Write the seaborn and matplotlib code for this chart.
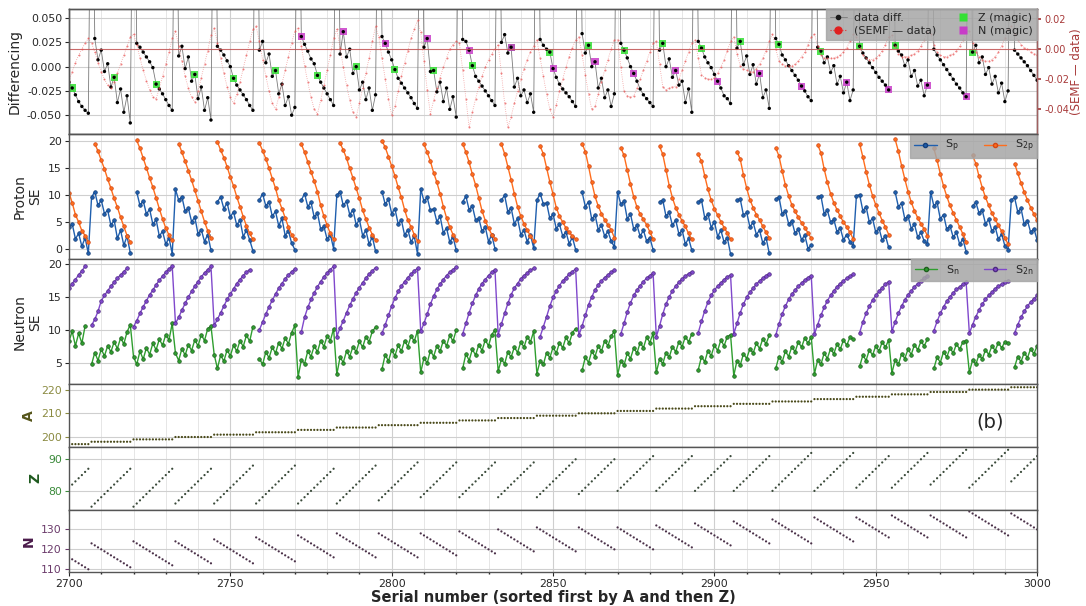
import numpy as np
import pandas as pd
import matplotlib
matplotlib.use("Agg")
import matplotlib.pyplot as plt
import seaborn as sns
from matplotlib.lines import Line2D
from matplotlib.ticker import MultipleLocator, FormatStrFormatter, FixedLocator

nan = np.nan
S = 0.30  # off-scale jump at the first nuclide of each isobar

# ---------------- data ----------------
SERIAL_START = 2700
A_GROUPS = [197, 198, 199, 200, 201, 202, 203, 204, 205, 206, 207, 208, 209,
            210, 211, 212, 213, 214, 215, 216, 217, 218, 219, 220, 221]
Z_FIRST = [81, 75, 75, 76, 76, 76, 76, 76, 77, 78, 78, 78, 78,
           79, 80, 80, 80, 80, 80, 80, 81, 81, 82, 81, 83]
Z_LAST = [87, 87, 87, 87, 88, 88, 87, 88, 89, 89, 89, 89, 90,
          90, 91, 91, 91, 91, 92, 92, 91, 92, 93, 93, 91]

DIFF = [
    [-0.016, -0.022, -0.029, -0.036, -0.041, -0.045, -0.048],
    [S, 0.029, 0.007, 0.017, -0.005, 0.003, -0.021, -0.011, -0.037, -0.023, -0.047, -0.030, -0.058],
    [S, 0.024, 0.020, 0.015, 0.010, 0.005, -0.001, -0.018, -0.023, -0.028, -0.034, -0.040, -0.045],
    [S, 0.011, 0.021, -0.002, 0.010, -0.015, -0.008, -0.033, -0.021, -0.045, -0.032, -0.055],
    [S, 0.021, 0.017, 0.012, 0.006, 0.000, -0.012, -0.019, -0.024, -0.029, -0.034, -0.040, -0.045],
    [S, 0.017, 0.026, 0.004, 0.013, -0.010, -0.004, -0.028, -0.018, -0.040, -0.031, -0.050, -0.042],
    [S, 0.031, 0.023, 0.016, 0.008, 0.003, -0.009, -0.016, -0.022, -0.028, -0.034, -0.040],
    [S, 0.013, 0.036, 0.010, 0.018, -0.007, 0.000, -0.024, -0.016, -0.034, -0.022, -0.045, -0.029],
    [S, 0.031, 0.024, 0.015, 0.007, -0.003, -0.012, -0.017, -0.022, -0.027, -0.032, -0.038, -0.043],
    [S, 0.020, 0.029, -0.005, -0.004, -0.026, -0.016, -0.036, -0.022, -0.044, -0.031, -0.052],
    [S, 0.028, 0.026, 0.017, 0.001, -0.010, -0.015, -0.020, -0.025, -0.030, -0.035, -0.040],
    [S, 0.025, 0.033, 0.014, 0.020, -0.021, -0.012, -0.030, -0.024, -0.037, -0.028, -0.047],
    [S, 0.028, 0.022, 0.018, 0.015, -0.002, -0.011, -0.018, -0.023, -0.027, -0.031, -0.036, -0.041],
    [S, 0.034, 0.014, 0.022, 0.000, 0.005, -0.022, -0.012, -0.032, -0.024, -0.041, -0.028],
    [S, 0.024, 0.017, 0.009, 0.000, -0.007, -0.015, -0.023, -0.029, -0.033, -0.037, -0.041],
    [S, 0.017, 0.024, 0.000, 0.008, -0.011, -0.004, -0.019, -0.015, -0.037, -0.023, -0.047],
    [S, 0.026, 0.019, 0.010, 0.004, -0.001, -0.008, -0.015, -0.022, -0.030, -0.033, -0.038],
    [S, 0.019, 0.026, 0.002, 0.011, -0.008, 0.002, -0.018, -0.007, -0.032, -0.024, -0.043],
    [S, 0.029, 0.023, 0.012, 0.007, 0.001, -0.004, -0.009, -0.014, -0.020, -0.025, -0.031, -0.035],
    [S, 0.020, 0.016, 0.004, 0.010, -0.006, 0.001, -0.018, -0.010, -0.027, -0.016, -0.035, -0.024],
    [S, 0.021, 0.014, 0.009, 0.004, -0.001, -0.006, -0.011, -0.015, -0.019, -0.024],
    [S, 0.022, 0.016, 0.012, 0.001, 0.007, -0.010, -0.004, -0.020, -0.014, -0.030, -0.019],
    [S, 0.018, 0.012, 0.007, 0.002, -0.003, -0.008, -0.013, -0.018, -0.022, -0.027, -0.031],
    [S, 0.015, 0.022, 0.004, 0.010, -0.008, -0.001, -0.018, -0.010, -0.027, -0.017, -0.036, -0.025],
    [S, 0.017, 0.013, 0.009, 0.005, 0.001, -0.004, -0.009, -0.014],
]

SEMF = [
    [-0.021, -0.015, -0.009, -0.004, 0.000, 0.004, 0.007],
    [0.004, -0.002, -0.009, -0.015, -0.020, -0.024, -0.026, -0.022, -0.016, -0.010, -0.004, 0.002, 0.008],
    [0.010, 0.003, -0.006, -0.014, -0.021, -0.027, -0.032, -0.033, -0.026, -0.018, -0.010, -0.002, 0.007],
    [0.012, 0.002, -0.008, -0.018, -0.026, -0.032, -0.035, -0.028, -0.019, -0.010, -0.001, 0.009],
    [0.014, 0.004, -0.006, -0.016, -0.025, -0.032, -0.036, -0.030, -0.022, -0.013, -0.004, 0.005, 0.013],
    [0.015, 0.005, -0.007, -0.018, -0.028, -0.036, -0.040, -0.032, -0.023, -0.014, -0.005, 0.004, 0.012],
    [0.014, 0.002, -0.011, -0.022, -0.032, -0.040, -0.043, -0.034, -0.024, -0.014, -0.004, 0.007],
    [0.013, 0.001, -0.012, -0.024, -0.034, -0.042, -0.045, -0.036, -0.026, -0.016, -0.006, 0.005, 0.015],
    [0.008, -0.006, -0.020, -0.033, -0.044, -0.038, -0.028, -0.018, -0.009, -0.001, 0.007, 0.013, 0.019],
    [0.011, -0.008, -0.027, -0.043, -0.034, -0.026, -0.019, -0.012, -0.006, 0.000, 0.003, 0.005],
    [0.004, -0.014, -0.033, -0.052, -0.042, -0.033, -0.025, -0.018, -0.012, -0.007, -0.003, 0.000],
    [0.003, -0.016, -0.036, -0.052, -0.045, -0.036, -0.028, -0.020, -0.013, -0.007, -0.002, 0.002],
    [0.006, -0.006, -0.018, -0.030, -0.040, -0.045, -0.037, -0.028, -0.020, -0.012, -0.005, 0.001, 0.006],
    [0.008, -0.004, -0.017, -0.030, -0.040, -0.038, -0.030, -0.022, -0.014, -0.007, 0.000, 0.006],
    [0.006, -0.012, -0.028, -0.031, -0.032, -0.031, -0.026, -0.020, -0.014, -0.008, -0.002, 0.004],
    [0.005, -0.010, -0.025, -0.027, -0.026, -0.025, -0.025, -0.020, -0.014, -0.008, -0.002, 0.004],
    [0.006, -0.006, -0.017, -0.019, -0.020, -0.020, -0.019, -0.016, -0.012, -0.007, -0.001, 0.005],
    [0.008, -0.003, -0.011, -0.013, -0.014, -0.015, -0.015, -0.013, -0.010, -0.006, -0.001, 0.005],
    [0.010, 0.000, -0.008, -0.010, -0.011, -0.011, -0.011, -0.010, -0.008, -0.005, -0.002, 0.003, 0.008],
    [0.010, 0.002, -0.004, -0.006, -0.006, -0.006, -0.006, -0.005, -0.004, -0.002, 0.001, 0.005, 0.010],
    [0.008, 0.001, -0.004, -0.006, -0.007, -0.007, -0.006, -0.004, -0.001, 0.003, 0.008],
    [0.009, 0.002, -0.003, -0.005, -0.005, -0.005, -0.004, -0.003, -0.001, 0.002, 0.006, 0.011],
    [0.010, 0.003, -0.002, -0.004, -0.005, -0.005, -0.004, -0.003, -0.001, 0.002, 0.006, 0.012],
    [0.012, 0.004, -0.002, -0.005, -0.007, -0.008, -0.008, -0.007, -0.005, -0.002, 0.002, 0.007, 0.013],
    [0.015, 0.010, 0.006, 0.003, 0.001, 0.000, -0.002, -0.003, -0.004],
]

SP = [
    [4.0, 4.6, 1.8, 2.8, 0.4, 2.0, -0.9],
    [9.5, 10.6, 8.0, 9.0, 6.5, 7.1, 4.3, 5.3, 1.9, 3.4, 0.6, 2.3, -0.8],
    [nan, 10.5, 8.0, 8.9, 6.4, 7.3, 4.5, 5.4, 2.3, 3.2, 0.8, 2.0, -1.0],
    [11.0, 9.0, 9.6, 6.9, 7.5, 5.0, 5.8, 2.7, 3.5, 1.3, 2.6, -0.3],
    [nan, 8.7, 9.6, 7.4, 8.5, 5.9, 6.8, 4.3, 5.3, 2.2, 3.4, 1.6, -0.4],
    [nan, 9.0, 10.2, 7.9, 8.7, 6.0, 6.9, 4.2, 5.6, 2.4, 3.3, 1.0, -0.2],
    [nan, 9.0, 10.2, 7.8, 8.6, 5.8, 6.6, 3.6, 4.1, 1.7, 2.6, 0.0],
    [9.9, 10.6, 8.0, 8.8, 6.3, 7.2, 4.4, 5.4, 2.4, 3.4, 0.8, 2.2, -0.5],
    [nan, 10.6, 8.2, 9.2, 6.5, 7.4, 4.6, 5.3, 2.5, 3.5, 1.2, 2.3, -1.0],
    [11.1, 8.8, 9.5, 7.1, 7.4, 5.0, 6.0, 2.9, 3.8, 1.2, 2.2, -0.3],
    [nan, 8.7, 9.7, 7.2, 7.9, 5.3, 5.6, 3.2, 4.0, 1.3, 2.5, 0.0],
    [nan, 9.0, 9.9, 6.8, 7.6, 4.6, 5.6, 2.6, 3.4, 1.3, 2.5, 0.1],
    [9.0, 10.2, 8.3, 8.5, 5.6, 6.4, 3.7, 4.5, 2.3, 3.1, 0.9, 2.1, -0.2],
    [nan, 10.5, 7.8, 8.7, 5.4, 6.3, 3.5, 4.3, 2.3, 3.2, 1.4, 0.3],
    [10.5, 8.2, 8.8, 5.5, 6.4, 3.6, 4.3, 2.3, 3.4, 1.4, 2.0, -0.2],
    [nan, 8.7, 9.0, 6.0, 6.7, 4.3, 5.3, 2.7, 3.4, 0.8, 1.9, -0.3],
    [nan, 8.7, 9.0, 5.7, 6.4, 3.9, 5.0, 2.2, 3.4, 1.2, 2.0, -1.0],
    [nan, 9.0, 9.2, 6.2, 6.7, 4.0, 4.9, 2.6, 3.4, 1.0, 2.0, -0.9],
    [nan, 9.2, 9.6, 6.4, 7.0, 4.6, 5.1, 2.8, 3.6, 1.6, 2.5, 0.0, 0.6],
    [nan, 9.6, 9.8, 6.5, 7.1, 4.9, 5.4, 3.1, 3.8, 1.6, 2.6, 1.3, 0.5],
    [9.8, 10.0, 7.0, 7.8, 4.9, 5.6, 3.0, 3.8, 1.5, 2.4, 0.2],
    [nan, 10.5, 7.8, 8.4, 5.5, 6.0, 3.7, 4.5, 2.1, 3.0, 1.4, 0.8],
    [10.5, 7.9, 8.6, 5.5, 6.3, 3.6, 4.2, 2.1, 3.0, 0.8, 1.8, -0.6],
    [nan, 7.9, 8.6, 6.6, 7.1, 4.6, 5.4, 3.2, 4.0, 1.7, 2.7, 0.5, -0.2],
    [9.0, 9.5, 6.8, 7.5, 4.5, 5.2, 3.0, 3.7, 1.6],
]

S2P = [
    [10.4, 8.5, 6.3, 4.9, 3.3, 2.4, 1.2],
    [nan, 19.5, 18.1, 16.4, 14.8, 12.9, 11.2, 9.3, 7.7, 5.8, 4.1, 2.4, 1.2],
    [nan, 20.1, 18.6, 16.8, 15.0, 13.1, 11.4, 9.4, 7.4, 5.5, 3.8, 2.5, 1.5],
    [nan, 19.5, 17.9, 16.2, 14.5, 12.7, 10.8, 8.9, 6.9, 5.0, 3.3, 1.9],
    [nan, 19.8, 18.3, 16.9, 15.2, 13.3, 11.6, 9.6, 7.8, 5.9, 4.2, 2.8, 1.7],
    [nan, 19.6, 18.2, 16.7, 14.9, 13.0, 11.2, 9.0, 7.4, 5.7, 4.0, 2.5, 1.7],
    [nan, 19.4, 17.9, 16.1, 14.3, 12.5, 10.6, 8.0, 6.0, 4.3, 2.8, 1.7],
    [nan, 19.6, 18.3, 16.8, 14.9, 13.1, 11.2, 9.3, 7.1, 5.5, 3.9, 2.6, 1.6],
    [nan, 20.0, 18.8, 17.1, 15.3, 13.5, 11.4, 9.5, 7.2, 5.3, 4.0, 2.6, 1.4],
    [nan, 19.4, 17.9, 16.2, 14.1, 12.3, 10.2, 7.8, 5.7, 4.0, 2.6, 1.5],
    [nan, 19.5, 17.9, 16.0, 13.8, 11.8, 9.4, 7.0, 5.2, 3.8, 2.6, 1.8],
    [nan, 19.4, 17.6, 15.2, 12.8, 10.2, 7.8, 6.0, 4.6, 3.4, 2.4, 1.4],
    [nan, 19.0, 17.6, 15.0, 12.4, 10.1, 7.6, 6.0, 4.9, 3.8, 3.0, 2.3, 1.8],
    [nan, 19.5, 18.0, 15.3, 12.3, 9.7, 7.9, 6.5, 5.3, 4.4, 3.5, 2.0],
    [nan, 18.7, 17.3, 14.6, 12.0, 9.6, 7.7, 6.4, 5.4, 4.4, 3.1, 1.8],
    [nan, 19.0, 17.5, 14.6, 11.7, 9.4, 7.6, 6.3, 5.1, 4.1, 2.8, 1.7],
    [nan, 17.5, 16.2, 13.5, 11.0, 9.0, 7.4, 6.2, 5.0, 3.9, 2.9, 1.8],
    [nan, 18.0, 16.6, 13.7, 11.2, 9.1, 7.6, 6.3, 5.3, 4.1, 3.0, 2.0],
    [nan, 18.7, 17.2, 14.4, 11.8, 9.8, 8.1, 6.9, 5.8, 4.8, 3.9, 2.9, 1.9],
    [nan, 19.3, 17.8, 14.8, 12.3, 10.2, 8.5, 7.2, 6.0, 4.9, 4.0, 3.0, 1.8],
    [nan, 19.5, 17.0, 14.3, 11.9, 9.8, 8.1, 6.6, 5.2, 4.0, 2.6],
    [nan, 20.3, 18.1, 15.4, 12.9, 10.6, 8.6, 7.0, 5.7, 4.6, 3.6, 2.4],
    [nan, 18.6, 16.4, 13.9, 11.6, 9.7, 8.0, 6.6, 5.3, 4.0, 2.7, 1.3],
    [nan, 17.3, 15.8, 13.4, 11.3, 9.5, 8.0, 6.6, 5.4, 4.3, 3.2, 2.0, 0.8],
    [nan, 15.8, 14.0, 12.2, 10.5, 9.0, 7.6, 6.4, 5.3],
]

SN = [
    [8.3, 9.8, 7.6, 9.5, 8.0, 10.6, nan],
    [4.8, 6.6, 5.4, 7.1, 6.1, 7.6, 6.7, 8.2, 7.2, 8.8, 7.9, 9.7, 10.8],
    [6.0, 4.8, 6.8, 5.6, 7.3, 6.3, 8.0, 7.0, 8.6, 7.7, 9.3, 8.5, 11.0],
    [6.5, 5.4, 7.2, 6.2, 7.8, 6.9, 8.5, 7.6, 9.3, 8.4, 10.2, 10.6],
    [6.3, 4.2, 6.2, 5.3, 7.0, 6.1, 7.7, 6.8, 8.4, 7.5, 9.2, 8.3, 10.5],
    [nan, 5.7, 4.8, 6.7, 5.8, 7.4, 6.5, 8.1, 7.2, 8.8, 7.9, 9.6, 10.7],
    [2.9, 5.5, 4.9, 6.8, 6.0, 7.6, 6.7, 8.4, 7.5, 9.1, 8.4, 10.2],
    [3.3, 5.9, 5.1, 6.8, 6.0, 7.5, 6.7, 8.3, 7.4, 9.0, 8.2, 9.8, 10.4],
    [nan, 4.1, 6.3, 5.3, 7.0, 6.1, 7.7, 6.8, 8.4, 7.5, 9.1, 8.3, 9.9],
    [3.6, 5.8, 5.0, 6.9, 6.0, 7.6, 6.8, 8.4, 7.6, 9.2, 8.3, 10.0],
    [nan, 4.2, 6.4, 5.4, 7.1, 6.2, 7.8, 6.9, 8.5, 7.6, 9.3, 10.0],
    [3.8, 5.6, 4.9, 6.7, 5.9, 7.4, 6.6, 8.2, 7.4, 9.0, 8.2, 9.8],
    [3.4, 5.4, 4.8, 6.6, 5.8, 7.4, 6.5, 8.1, 7.3, 8.9, 8.0, 9.6, 10.2],
    [nan, 3.9, 5.9, 5.1, 6.8, 6.0, 7.6, 6.8, 8.4, 7.6, 9.1, 9.8],
    [3.2, 5.4, 4.7, 6.5, 5.7, 7.3, 6.5, 8.1, 7.3, 8.9, 8.1, 9.5],
    [3.6, 5.6, 4.9, 6.6, 5.9, 7.5, 6.7, 8.2, 7.5, 9.0, 8.2, 9.4],
    [nan, 4.0, 6.0, 5.2, 6.9, 6.1, 7.7, 6.9, 8.5, 7.6, 9.0, 9.3],
    [3.1, 5.4, 4.7, 6.4, 5.7, 7.2, 6.5, 8.0, 7.2, 8.7, 7.9, 9.2],
    [nan, 4.2, 6.0, 5.2, 6.8, 6.0, 7.5, 6.7, 8.2, 7.4, 8.8, 8.0, 9.0],
    [3.4, 5.5, 4.8, 6.5, 5.7, 7.2, 6.4, 7.9, 7.1, 8.5, 7.7, 8.9, 8.6],
    [nan, 4.5, 6.2, 5.4, 7.0, 6.2, 7.6, 6.8, 8.2, 7.4, 8.5],
    [3.5, 5.5, 4.8, 6.4, 5.7, 7.1, 6.3, 7.8, 7.0, 8.3, 7.6, 8.6],
    [nan, 4.2, 5.9, 5.1, 6.7, 5.9, 7.3, 6.5, 7.9, 7.1, 8.2, 8.4],
    [3.6, 5.5, 4.8, 6.3, 5.6, 7.0, 6.3, 7.6, 6.9, 8.1, 7.3, 8.2, 8.0],
    [nan, 4.4, 6.0, 5.2, 6.6, 5.8, 7.2, 6.4, 7.6],
]

S2N = [
    [16.3, 17.0, 17.6, 18.3, 18.9, 19.6, nan],
    [10.7, 11.6, 12.8, 14.4, 15.2, 15.9, 16.6, 17.2, 17.8, 18.3, 18.8, 19.3, nan],
    [10.5, 11.4, 12.5, 13.5, 14.4, 15.3, 16.0, 16.8, 17.5, 18.1, 18.7, 19.2, 19.6],
    [11.0, 11.9, 13.0, 14.0, 15.0, 15.8, 16.6, 17.3, 18.0, 18.6, 19.1, 19.6],
    [10.7, 11.6, 12.6, 13.6, 14.6, 15.4, 16.2, 17.0, 17.6, 18.2, 18.7, 19.1, nan],
    [nan, 10.0, 11.2, 12.4, 13.5, 14.5, 15.4, 16.3, 17.0, 17.7, 18.3, 18.8, 19.2],
    [nan, 9.7, 11.9, 13.4, 14.6, 15.6, 16.5, 17.3, 18.0, 18.6, 19.1, 19.6],
    [9.0, 10.3, 11.4, 12.6, 13.7, 14.7, 15.6, 16.4, 17.1, 17.8, 18.4, 18.9, 19.4],
    [nan, 9.5, 10.8, 12.2, 13.6, 14.8, 15.8, 16.6, 17.3, 17.9, 18.4, 18.9, 19.3],
    [9.8, 11.0, 12.4, 13.9, 15.1, 16.1, 16.9, 17.6, 18.2, 18.7, 19.1, 19.5],
    [nan, 9.4, 11.0, 12.6, 14.0, 15.2, 16.2, 17.0, 17.6, 18.2, 18.7, 19.1],
    [9.3, 10.9, 12.5, 14.0, 15.3, 16.3, 17.0, 17.7, 18.2, 18.6, 19.0, 19.3],
    [nan, 9.0, 10.5, 12.0, 13.6, 14.9, 15.9, 16.7, 17.4, 17.9, 18.4, 18.8, 19.2],
    [9.2, 10.6, 12.2, 13.8, 15.0, 16.0, 16.8, 17.4, 17.9, 18.3, 18.7, 19.0],
    [nan, 9.4, 11.0, 12.7, 14.1, 15.2, 16.0, 16.7, 17.3, 17.8, 18.2, 18.6],
    [9.0, 10.6, 12.4, 13.9, 15.0, 15.9, 16.6, 17.2, 17.7, 18.1, 18.5, 18.8],
    [nan, 9.6, 11.3, 12.9, 14.2, 15.2, 16.0, 16.6, 17.1, 17.6, 18.0, 18.3],
    [9.4, 11.0, 12.6, 13.9, 14.9, 15.7, 16.3, 16.9, 17.4, 17.8, 18.2, 18.5],
    [nan, 9.2, 10.9, 12.4, 13.6, 14.6, 15.4, 16.0, 16.6, 17.1, 17.5, 17.9, 18.2],
    [9.4, 10.8, 12.2, 13.4, 14.4, 15.2, 15.9, 16.5, 17.0, 17.4, 17.8, 18.1, 18.4],
    [nan, 9.6, 11.2, 12.5, 13.6, 14.5, 15.2, 15.8, 16.4, 16.9, 17.3],
    [9.8, 11.2, 12.5, 13.6, 14.5, 15.3, 15.9, 16.5, 17.0, 17.4, 17.8, 18.1],
    [nan, 9.9, 11.3, 12.5, 13.5, 14.3, 15.0, 15.6, 16.1, 16.5, 16.9, 17.2],
    [9.5, 10.8, 12.0, 13.0, 13.9, 14.6, 15.2, 15.7, 16.2, 16.6, 16.9, 17.2, 17.4],
    [nan, 9.5, 10.8, 11.9, 12.8, 13.6, 14.2, 14.7, 15.2],
]

# ---------------- assemble ----------------
A = np.concatenate([[a] * (zl - zf + 1) for a, zf, zl in zip(A_GROUPS, Z_FIRST, Z_LAST)])
Z = np.concatenate([np.arange(zf, zl + 1) for zf, zl in zip(Z_FIRST, Z_LAST)])
N = A - Z
npts = len(A)
serial = SERIAL_START + np.arange(npts)


def flat(groups):
    v = np.array([x for g in groups for x in g], dtype=float)
    if len(v) < npts:
        v = np.concatenate([v, np.full(npts - len(v), np.nan)])
    return v[:npts]


diff = flat(DIFF)
semf = flat(SEMF)
sp, s2p, sn, s2n = flat(SP), flat(S2P), flat(SN), flat(S2N)

# ---------------- style ----------------
sns.set_theme(style="whitegrid")
plt.rcParams["font.family"] = ["DejaVu Sans"]
plt.rcParams["axes.edgecolor"] = "#555555"
plt.rcParams["axes.linewidth"] = 1.0

fig = plt.figure(figsize=(10.86, 6.06), dpi=100)
gs = fig.add_gridspec(6, 1, height_ratios=[2, 2, 2, 1, 1, 1], left=0.0635,
                      right=0.955, top=0.985, bottom=0.056, hspace=0)
ax0 = fig.add_subplot(gs[0])
axes = [ax0] + [fig.add_subplot(gs[i], sharex=ax0) for i in range(1, 6)]
axP, axN, axA, axZ, axNN = axes[1:]


def seg_line(ax, x, y, color, lw=1.0, ms=3.0, mec=None, ls="-", alpha=1.0,
             zorder=2, marker="o"):
    df = pd.DataFrame({"x": x, "y": y})
    valid = df["y"].notna()
    df["seg"] = (valid != valid.shift()).cumsum()
    df = df[valid]
    sns.lineplot(data=df, x="x", y="y", units="seg", estimator=None, sort=False,
                 color=color, lw=lw, marker=marker, markersize=ms,
                 markeredgecolor=mec or color, markeredgewidth=0.5,
                 linestyle=ls, alpha=alpha, zorder=zorder, ax=ax, legend=False)


# ---- panel 1: differencing ----
ax2 = ax0.twinx()
seg_line(ax0, serial, diff, "#7a7a7a", lw=0.6, ms=0, marker=None, zorder=2)
mz = Z == 82
mn = N == 126
sns.scatterplot(x=serial[mz], y=diff[mz], marker="s", s=26, color="#33e033",
                edgecolor="none", alpha=0.85, ax=ax0, zorder=3, legend=False)
sns.scatterplot(x=serial[mn], y=diff[mn], marker="s", s=26, color="#c83cc8",
                edgecolor="none", alpha=0.85, ax=ax0, zorder=3, legend=False)
sns.scatterplot(x=serial, y=diff, s=6, color="black", edgecolor="none",
                ax=ax0, zorder=4, legend=False)
ax0.set_ylim(-0.0696, 0.0593)
ax0.yaxis.set_major_locator(FixedLocator([-0.05, -0.025, 0.0, 0.025, 0.05]))
ax0.yaxis.set_major_formatter(FormatStrFormatter("%.3f"))
ax0.set_ylabel("Differencing", fontsize=10)

seg_line(ax2, serial, semf, "#e85050", lw=0.6, ms=1.0, ls=":", alpha=0.55)
ax2.axhline(0.0, color="#c05050", lw=0.8, alpha=0.85, zorder=1)
ax2.set_ylim(-0.0565, 0.0265)
ax2.yaxis.set_major_locator(FixedLocator([-0.04, -0.02, 0.0, 0.02]))
ax2.yaxis.set_major_formatter(FormatStrFormatter("%.2f"))
ax2.grid(False)
ax2.tick_params(axis="y", colors="#a83a3a", labelsize=7, length=3, pad=2)
ax2.set_ylabel("(SEMF — data)", color="#a83a3a", fontsize=8.5, labelpad=1)
ax2.spines["right"].set_color("#a06060")
ax2.set_xlabel("")

h0 = [Line2D([0], [0], color="#7a7a7a", lw=0.6, marker="o", ms=3, mfc="k", mec="k"),
      Line2D([0], [0], color="#e03030", lw=0.8, ls=":", marker="o", ms=5,
             mfc="#e02020", mec="#e02020"),
      Line2D([0], [0], ls="none", marker="s", ms=6, mfc="#33e033", mec="none"),
      Line2D([0], [0], ls="none", marker="s", ms=6, mfc="#c83cc8", mec="none")]
leg = ax2.legend(h0, ["data diff.", "(SEMF — data)", "Z (magic)", "N (magic)"],
                 ncol=2, loc="upper right", bbox_to_anchor=(1, 1), borderaxespad=0,
                 fontsize=8, facecolor="#a6a6a6", framealpha=0.85, edgecolor="#a6a6a6",
                 fancybox=False, handlelength=1.6, columnspacing=1.6,
                 borderpad=0.35, labelspacing=0.25, handletextpad=0.6)

# ---- panel 2: proton SE ----
seg_line(axP, serial, sp, "#1f5fae", lw=1.0, ms=2.6, mec="#173f78")
seg_line(axP, serial, s2p, "#ff6d1c", lw=1.0, ms=2.6, mec="#d04818")
axP.set_ylim(-2.0, 21.25)
axP.yaxis.set_major_locator(FixedLocator([0, 5, 10, 15, 20]))
axP.set_ylabel("Proton\nSE", fontsize=10)
hP = [Line2D([0], [0], color="#1f5fae", lw=1.0, marker="o", ms=3, mec="#173f78"),
      Line2D([0], [0], color="#ff6d1c", lw=1.0, marker="o", ms=3, mec="#d04818")]
axP.legend(hP, [r"S$_{\rm p}$", r"S$_{\rm 2p}$"], ncol=2, loc="upper right",
           bbox_to_anchor=(1, 1), borderaxespad=0, fontsize=8, facecolor="#a6a6a6",
           framealpha=0.85, edgecolor="#a6a6a6", fancybox=False, columnspacing=2.2,
           borderpad=0.35, handlelength=2.0)

# ---- panel 3: neutron SE ----
seg_line(axN, serial, sn, "#2f9e2f", lw=1.0, ms=2.6, mec="#1f5f1f")
seg_line(axN, serial, s2n, "#8048cc", lw=1.0, ms=2.6, mec="#4e2a80")
axN.set_ylim(1.8, 20.65)
axN.yaxis.set_major_locator(FixedLocator([5, 10, 15, 20]))
axN.set_ylabel("Neutron\nSE", fontsize=10)
hN = [Line2D([0], [0], color="#2f9e2f", lw=1.0, marker="o", ms=3, mec="#1f5f1f"),
      Line2D([0], [0], color="#8048cc", lw=1.0, marker="o", ms=3, mec="#4e2a80")]
axN.legend(hN, [r"S$_{\rm n}$", r"S$_{\rm 2n}$"], ncol=2, loc="upper right",
           bbox_to_anchor=(1, 1), borderaxespad=0, fontsize=8, facecolor="#a6a6a6",
           framealpha=0.85, edgecolor="#a6a6a6", fancybox=False, columnspacing=2.2,
           borderpad=0.35, handlelength=2.0)

# ---- A, Z, N panels ----
sns.scatterplot(x=serial, y=A, s=2.5, color="#4a4a1a", edgecolor="none", ax=axA, legend=False)
sns.scatterplot(x=serial, y=Z, s=2.5, color="#3a4a3a", edgecolor="none", ax=axZ, legend=False)
sns.scatterplot(x=serial, y=N, s=2.5, color="#4a3048", edgecolor="none", ax=axNN, legend=False)
axA.set_ylim(195.8, 222.2)
axZ.set_ylim(74.1, 93.9)
axNN.set_ylim(108.6, 140.0)
axA.yaxis.set_major_locator(FixedLocator([200, 210, 220]))
axZ.yaxis.set_major_locator(FixedLocator([80, 90]))
axNN.yaxis.set_major_locator(FixedLocator([110, 120, 130]))
axA.set_ylabel("A", fontsize=10, fontweight="bold", color="#55551a")
axZ.set_ylabel("Z", fontsize=10, fontweight="bold", color="#1f5a1f")
axNN.set_ylabel("N", fontsize=10, fontweight="bold", color="#4a1a4a")
axA.tick_params(axis="y", colors="#8a8a40")
axZ.tick_params(axis="y", colors="#3a8a3a")
axNN.tick_params(axis="y", colors="#6a3a6a")
axA.text(0.951, 0.40, "(b)", transform=axA.transAxes, ha="center", va="center",
         fontsize=14)

# ---- common x axis and grids ----
ax0.set_xlim(2700, 3000)
for ax in axes:
    ax.xaxis.set_major_locator(MultipleLocator(50))
    ax.xaxis.set_minor_locator(MultipleLocator(10))
    ax.grid(True, which="major", color="#cfcfcf", lw=0.8)
    ax.grid(True, which="minor", axis="x", color="#e2e2e2", lw=0.6)
    ax.tick_params(axis="both", which="major", labelsize=7.8, length=3,
                   width=0.8, direction="out", left=True, bottom=True, pad=2)
    ax.tick_params(axis="x", which="minor", length=1.5, bottom=True)
    if ax is not axNN:
        ax.tick_params(axis="x", labelbottom=False)
        ax.set_xlabel("")
    for sp_ in ax.spines.values():
        sp_.set_color("#555555")
        sp_.set_linewidth(1.0)
    ax.set_axisbelow(True)
ax2.tick_params(axis="y", which="major", length=3, right=True)
axNN.set_xlabel("Serial number (sorted first by A and then Z)", fontsize=10.5,
                fontweight="bold", labelpad=1)

fig.savefig("out.png", dpi=100)
